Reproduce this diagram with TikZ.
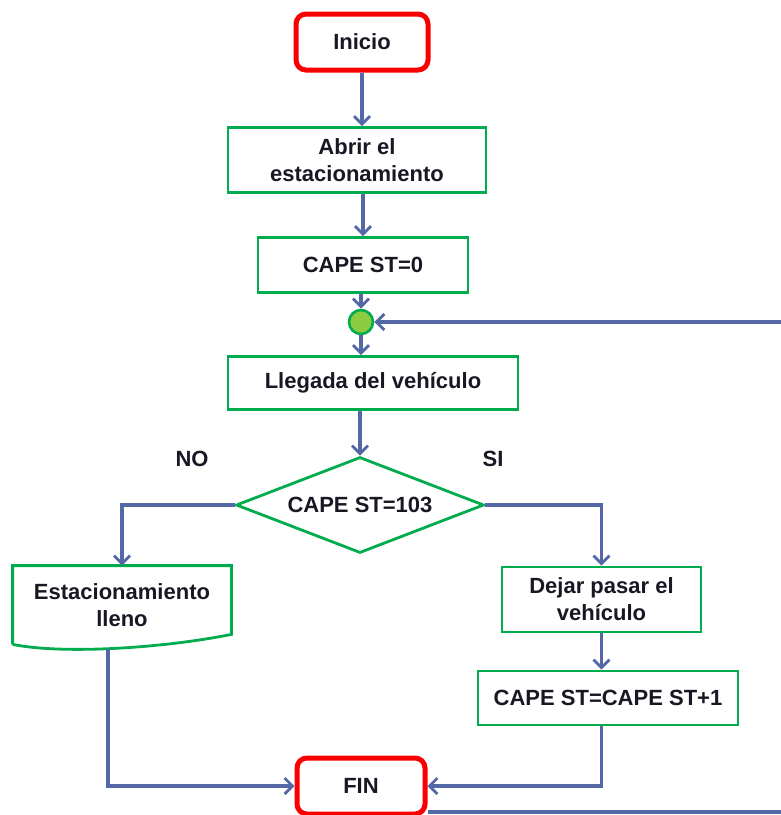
\documentclass[tikz,border=0pt]{standalone}
\usepackage{fontspec}
\setmainfont{Liberation Sans}
\usepackage{tikz}
\usetikzlibrary{shapes.geometric}
\usetikzlibrary{arrows.meta}
\usepackage{xcolor}

\definecolor{boxgreen}{RGB}{0,172,78}
\definecolor{termred}{RGB}{250,0,0}
\definecolor{flowblue}{RGB}{84,104,168}
\definecolor{dotgreen}{RGB}{140,204,64}
\definecolor{txt}{RGB}{24,24,36}

\tikzset{
  proc/.style={draw=boxgreen, line width=1.4pt, fill=white, text=txt,
    font=\fontsize{11}{13.5}\selectfont\bfseries, align=center, inner sep=2pt},
  term/.style={draw=termred, line width=2.5pt, rounded corners=5pt, fill=white,
    text=txt, font=\fontsize{11}{13.5}\selectfont\bfseries, inner sep=2pt},
  flow/.style={draw=flowblue, line width=1.6pt,
    -{Straight Barb[length=4pt,width=8pt,line width=1.4pt]}},
  lbl/.style={text=txt, font=\fontsize{11}{13.5}\selectfont\bfseries},
}

\begin{document}
\begin{tikzpicture}[x=0.5pt, y=-0.5pt]
  \useasboundingbox (0,0) rectangle (781,815);
  \clip (0,0) rectangle (781,815);

  % main column
  \node[term, minimum width=66pt, minimum height=28pt] (ini) at (362,42) {Inicio};
  \node[proc, minimum width=129pt, minimum height=32.5pt] (abrir) at (357,160) {Abrir el\\estacionamiento};
  \node[proc, minimum width=105pt, minimum height=27.5pt] (cap0) at (363,265) {CAPE ST=0};
  \node[circle, draw=boxgreen, fill=dotgreen, line width=1.3pt, minimum size=12pt, inner sep=0pt] (junc) at (361,322) {};
  \node[proc, minimum width=145pt, minimum height=26.5pt] (lleg) at (373,383) {Llegada del vehículo};
  \node[proc, diamond, aspect=2.6, inner sep=0pt, minimum width=124pt, minimum height=48pt] (dec) at (360,505) {CAPE ST=103};

  \node[lbl] (no) at (192,459) {NO};
  \node[lbl] (si) at (493,459) {SI};

  % branches
  \node[proc, draw=none, fill=none, minimum width=108pt, minimum height=38pt] (lleno) at (122,605) {Estacionamiento\\lleno};
  \draw[boxgreen, line width=1.4pt] (lleno.south west) -- (lleno.north west) -- (lleno.north east)
    -- ([yshift=5pt]lleno.south east) .. controls +(-70,14) and +(50,10) .. (lleno.south west);
  \node[proc, minimum width=99.5pt, minimum height=32.5pt] (dejar) at (601.5,599.5) {Dejar pasar el\\vehículo};
  \node[proc, minimum width=130pt, minimum height=27pt] (cap1) at (608,698) {CAPE ST=CAPE ST+1};
  \node[term, minimum width=64pt, minimum height=28pt] (fin) at (361,786) {FIN};

  \coordinate (lo) at (108,649);
  \coordinate (rb) at (800,812);
  \coordinate (rt) at (800,322);

  \draw[flow] (ini.south) -- (ini.south |- abrir.north);
  \draw[flow] (cap0.north |- abrir.south) -- (cap0.north);
  \draw[flow] (junc |- cap0.south) -- (junc.north);
  \draw[flow] (junc.south) -- (junc |- lleg.north);
  \draw[flow] (dec.north |- lleg.south) -- (dec.north);
  \draw[flow] (dec.west) -| (lleno.north);
  \draw[flow] (dec.east) -| (dejar.north);
  \draw[flow] (dejar.south) -- (dejar.south |- cap1.north);
  \draw[flow] (lo) |- (fin.west);
  \draw[flow] (dejar.south |- cap1.south) |- (fin.east);

  % back to the junction
  \draw[flow] (fin.east |- rb) -- (rb) -- (rt) -- (junc);
\end{tikzpicture}
\end{document}
